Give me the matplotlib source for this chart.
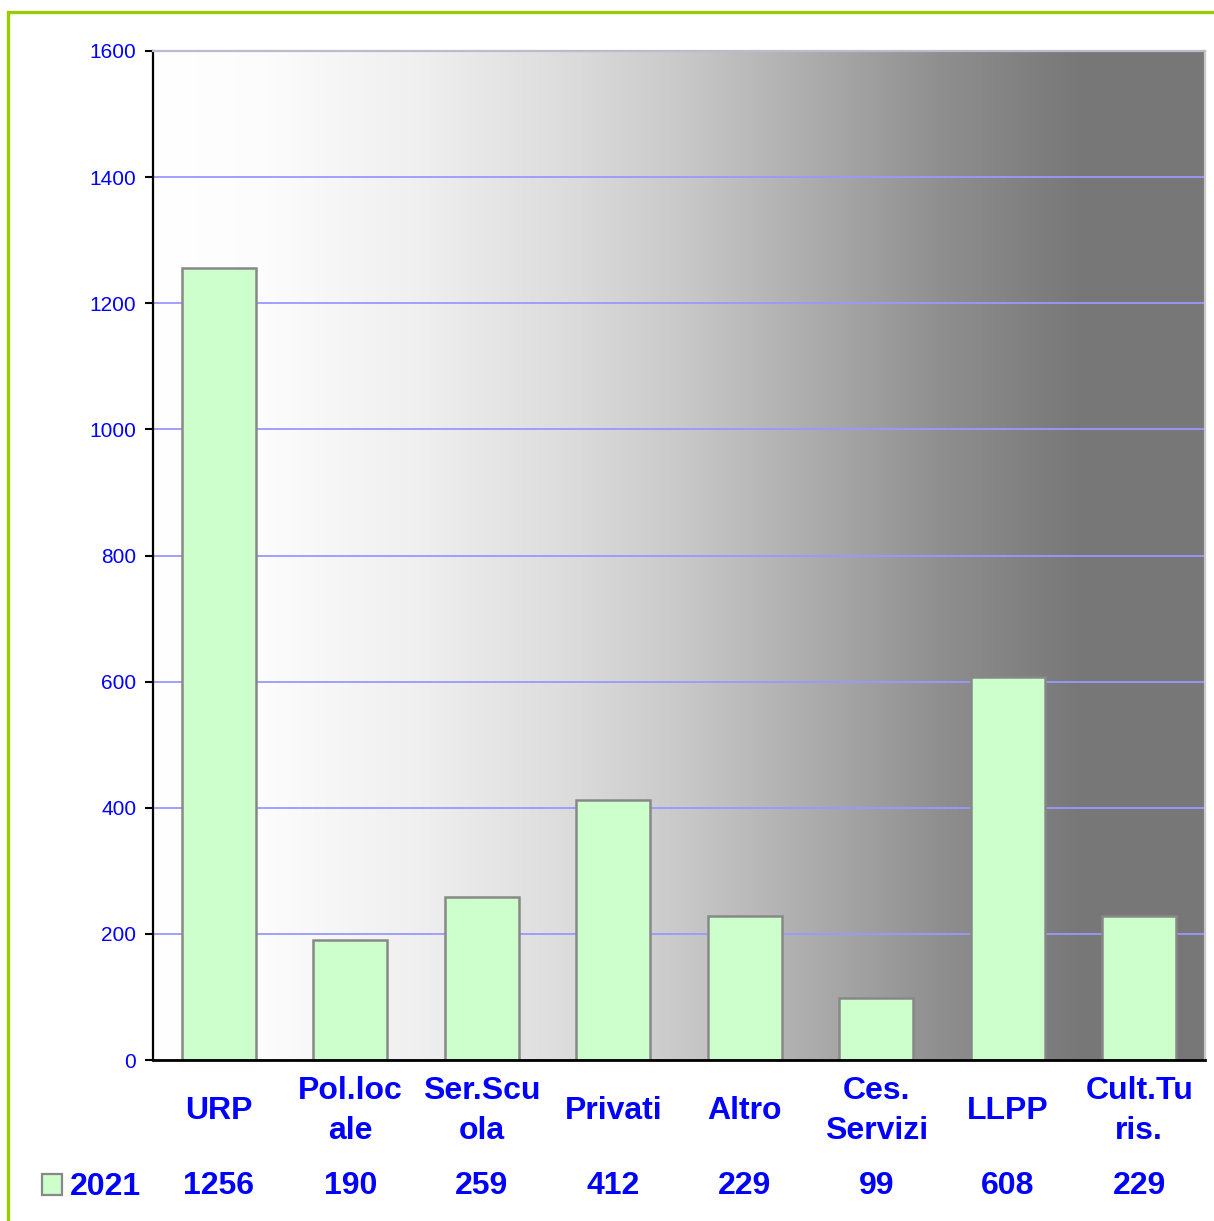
import numpy as np
import matplotlib.pyplot as plt
from matplotlib.patches import Rectangle
import matplotlib.transforms as mtransforms

categories = ["URP", "Pol.loc\nale", "Ser.Scu\nola", "Privati", "Altro",
              "Ces.\nServizi", "LLPP", "Cult.Tu\nris."]
values_2021 = [1256, 190, 259, 412, 229, 99, 608, 229]
series_name = "2021"
y_ticks = [0, 200, 400, 600, 800, 1000, 1200, 1400, 1600]

W, H = 1214, 1221
BLUE = "#0000FF"
plt.rcParams['font.family'] = ['Liberation Sans', 'DejaVu Sans']

fig = plt.figure(figsize=(W / 100, H / 100), dpi=100)

# outer green frame (runs off the right and bottom edges)
fig.patches.append(Rectangle((8 / W, -0.05), 1.1, 1 - 12 / H + 0.05,
                             transform=fig.transFigure, fill=False,
                             edgecolor="#99CC00", linewidth=2.4))

ax = fig.add_axes([153 / W, 1 - 1060 / H, 1052 / W, 1009 / H])

# horizontal white -> gray background (eased, flat at the right end)
stops = [0, 0.1, 0.25, 0.4, 0.5, 0.6, 0.75, 0.88, 1.0]
grays = [1.0, 0.99, 0.94, 0.86, 0.79, 0.70, 0.56, 0.47, 0.47]
grad = np.interp(np.linspace(0, 1, 512), stops, grays)
img = np.dstack([grad, grad, grad])
ax.imshow(img, extent=(0, 1, 0, 1), transform=ax.transAxes, aspect="auto",
          zorder=0.1, interpolation="bilinear")

x = np.arange(len(categories))
ax.bar(x, values_2021, width=0.56, color="#CCFFCC", edgecolor="#888888",
       linewidth=1.8, zorder=2)

ax.set_xlim(-0.5, len(categories) - 0.5)
ax.set_ylim(0, 1600)
ax.set_yticks(y_ticks)
ax.set_yticklabels([str(t) for t in y_ticks], color=BLUE, fontsize=15)
ax.set_xticks([])
ax.tick_params(axis="y", direction="out", length=6, width=1.5, pad=6)
ax.grid(axis="y", color="#9999FF", linewidth=1.3)
ax.set_axisbelow(True)

ax.spines["left"].set_linewidth(1.6)
ax.spines["bottom"].set_linewidth(2.0)
ax.spines["top"].set_color("#BBBBCC")
ax.spines["top"].set_linewidth(1.6)
ax.spines["right"].set_color("#C8C8C8")
ax.spines["right"].set_linewidth(1.6)

# category labels and data table row
trans = mtransforms.blended_transform_factory(ax.transData, fig.transFigure)
for xi, cat, v in zip(x, categories, values_2021):
    ax.text(xi, 1 - 1111 / H, cat, transform=trans, ha="center", va="center",
            fontsize=23, fontweight="bold", color=BLUE, linespacing=1.45)
    ax.text(xi, 1 - 1186 / H, str(v), transform=trans, ha="center",
            va="center", fontsize=23, fontweight="bold", color=BLUE)

fig.patches.append(Rectangle((42 / W, 1 - 1195 / H), 20 / W, 21 / H,
                             transform=fig.transFigure, facecolor="#CCFFCC",
                             edgecolor="#888888", linewidth=1.6))
fig.text(70 / W, 1 - 1187 / H, series_name, ha="left", va="center",
         fontsize=23, fontweight="bold", color=BLUE)

fig.savefig("out.png", dpi=100)
